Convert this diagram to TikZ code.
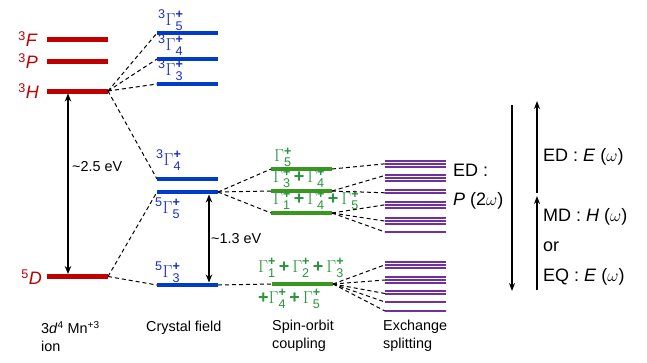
\documentclass[tikz,border=0pt]{standalone}
\usepackage{amsmath}
\usepackage{fontspec}
\setmainfont{Liberation Sans}
\usetikzlibrary{arrows.meta}
\definecolor{lvred}{RGB}{192,0,0}
\definecolor{lvblue}{RGB}{0,60,200}
\definecolor{txblue}{RGB}{25,45,200}
\definecolor{lvgreen}{RGB}{57,150,30}
\definecolor{txgreen}{RGB}{40,150,60}
\definecolor{lvpurple}{RGB}{112,48,160}
\newcommand{\Gm}[2]{\Gamma^{\textbf{+}}_{\text{#1}}}
\newcommand{\Gl}[2]{{}^{\text{#1}}\Gamma^{\textbf{+}}_{\text{#2}}}
\begin{document}
\begin{tikzpicture}[x=1pt,y=-1pt,
  bar/.style={inner sep=0pt, outer sep=0pt, minimum width=61pt, minimum height=#1},
  redbar/.style={bar=5pt, fill=lvred},
  bluebar/.style={bar=4.5pt, fill=lvblue},
  greenbar/.style={bar=4pt, fill=lvgreen},
  pbar/.style={bar=2pt, fill=lvpurple},
  conn/.style={draw=black, line width=1pt, dash pattern=on 4pt off 3pt},
  darrow/.style={line width=1.8pt, {Stealth[length=8pt,width=6.5pt]}-{Stealth[length=8pt,width=6.5pt]}},
  uarrow/.style={line width=1.8pt, -{Stealth[length=8pt,width=6pt]}},
  lvlabel/.style={text=lvred, font=\fontsize{18}{20}\selectfont, inner sep=0pt, anchor=east},
  bluelabel/.style={text=txblue, font=\fontsize{18}{20}\selectfont, inner sep=0pt, anchor=base west},
  greenlabel/.style={text=txgreen, font=\fontsize{18}{20}\selectfont, inner sep=0pt, anchor=base west},
  small/.style={font=\fontsize{14.4}{18}\selectfont, inner sep=0pt, anchor=west, align=left},
  big/.style={font=\fontsize{18}{20}\selectfont, inner sep=0pt, anchor=west}
]
\useasboundingbox (0,0) rectangle (647,362);

% free ion levels
\node[redbar] (F3) at (77.5,39) {};
\node[redbar] (P3) at (77.5,61) {};
\node[redbar] (H3) at (77.5,91) {};
\node[redbar] (D5) at (77.5,276.5) {};
\node[lvlabel] (lF) at (38,39) {\textsuperscript{3}\textit{F}};
\node[lvlabel] (lP) at (38,61) {\textsuperscript{3}\textit{P}};
\node[lvlabel] (lH) at (39,91) {\textsuperscript{3}\textit{H}};
\node[lvlabel] (lD) at (42,277) {\textsuperscript{5}\textit{D}};

% crystal field
\node[bluebar] (b35) at (187.5,33) {};
\node[bluebar] (b34) at (187.5,59) {};
\node[bluebar] (b33) at (187.5,84) {};
\node[bluebar] (c34) at (187.5,179) {};
\node[bluebar] (c55) at (187.5,192) {};
\node[bluebar] (c53) at (187.5,285) {};
\node[bluelabel] (tb35) at (158,25) {$\Gl{3}{5}$};
\node[bluelabel] (tb34) at (158,50) {$\Gl{3}{4}$};
\node[bluelabel] (tb33) at (158,75) {$\Gl{3}{3}$};
\node[bluelabel] (tc34) at (156,165) {$\Gl{3}{4}$};
\node[bluelabel] (tc55) at (155,213) {$\Gl{5}{5}$};
\node[bluelabel] (tc53) at (155,277) {$\Gl{5}{3}$};

% spin-orbit
\node[greenbar] (g1) at (301.5,169) {};
\node[greenbar] (g2) at (301.5,191) {};
\node[greenbar] (g3) at (301.5,213) {};
\node[greenbar] (g4) at (302.5,284) {};
\node[greenlabel] (tg1) at (274,161.5) {$\Gm{5}{}$};
\node[greenlabel] (tg2) at (273,182.5) {$\Gm{3}{}\,\textbf{+}\,\Gm{4}{}$};
\node[greenlabel] (tg3) at (273,204.5) {$\Gm{1}{}\,\textbf{+}\,\Gm{4}{}\,\textbf{+}\,\Gm{5}{}$};
\node[greenlabel] (tg4) at (258,272) {$\Gm{1}{}\,\textbf{+}\,\Gm{2}{}\,\textbf{+}\,\Gm{3}{}$};
\node[greenlabel] (tg5) at (258,303) {$\textbf{+}\Gm{4}{}\,\textbf{+}\,\Gm{5}{}$};

% exchange splitting lines
\foreach \y [count=\i] in {161,163.8,166.6, 175.4,178.2,181, 190,192.8, 202,204.8,207.6, 218.3,221.1,223.9, 232,
  262,264.8,267.6, 277,280,282.8, 290.5,293.5, 302, 311}
  \node[pbar] (p\i) at (415.5,\y) {};

% connectors: free ion -> crystal field
\draw[conn] (H3.east) -- (b35.west);
\draw[conn] (H3.east) -- (b34.west);
\draw[conn] (H3.east) -- (b33.west);
\draw[conn] (H3.east) -- (c34.west);
\draw[conn] (D5.east) -- (c55.west);
\draw[conn] (D5.east) -- (c53.west);
% crystal field -> spin-orbit
\draw[conn] (c55.east) -- (g1.west);
\draw[conn] (c55.east) -- (g2.west);
\draw[conn] (c55.east) -- (g3.west);
\draw[conn] (c53.east) -- (g4.west);
% spin-orbit -> exchange
\draw[conn] (g1.east) -- (p2.west);
\draw[conn] (g2.east) -- (p4.west);
\draw[conn] (g2.east) -- (p8.west);
\draw[conn] (g3.east) -- (p10.west);
\draw[conn] (g3.east) -- (p13.west);
\draw[conn] (g3.east) -- (p15.west);
\draw[conn] (g4.east) -- (p17.west);
\draw[conn] (g4.east) -- (p20.west);
\draw[conn] (g4.east) -- (p23.west);
\draw[conn] (g4.east) -- (p24.west);
\draw[conn] (g4.east) -- (p25.west);

% energy arrows
\coordinate (a1) at (68,93.5);
\coordinate (a2) at (68,274);
\draw[darrow] (a1) -- (a2);
\node[small] (e25) at (72,167) {\textasciitilde 2.5 eV};
\coordinate (a3) at (209,194.5);
\coordinate (a4) at (209,282.5);
\draw[darrow] (a3) -- (a4);
\node[small] (e13) at (211,239) {\textasciitilde 1.3 eV};

% right side
\coordinate (r1) at (512,105);
\coordinate (r2) at (512,291);
\draw[uarrow] (r1) -- (r2);
\coordinate (r3) at (537,193);
\coordinate (r4) at (537,101);
\draw[uarrow] (r3) -- (r4);
\coordinate (r5) at (537,290);
\coordinate (r6) at (537,196);
\draw[uarrow] (r5) -- (r6);
\node[big] (t1) at (453,170) {ED :};
\node[big] (t2) at (453,201) {\textit{P} (2$\omega$)};
\node[big] (t3) at (543,157) {ED : \textit{E} ($\omega$)};
\node[big] (t4) at (543,217) {MD : \textit{H} ($\omega$)};
\node[big] (t5) at (543,247) {or};
\node[big] (t6) at (543,277) {EQ : \textit{E} ($\omega$)};

% bottom captions
\node[small, anchor=north west] (c1) at (41,321) {3\textit{d}\textsuperscript{4} Mn\textsuperscript{+3}\\ion};
\node[small, anchor=north west] (c2) at (146,321) {Crystal field};
\node[small, anchor=north west] (c3) at (272,320) {Spin-orbit\\coupling};
\node[small, anchor=north west] (c4) at (383,320) {Exchange\\splitting};
\end{tikzpicture}
\end{document}
